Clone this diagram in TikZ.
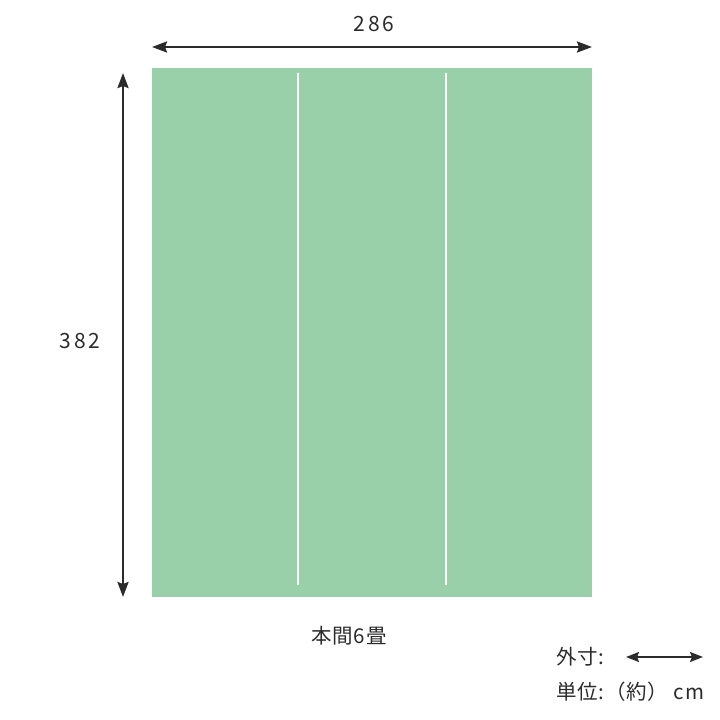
\documentclass[tikz,border=0pt]{standalone}
\usepackage{fontspec}
\setmainfont{Noto Sans CJK JP}
\newfontfamily\digitfont[LetterSpace=14]{Noto Sans CJK JP}
\newfontfamily\keyfont[LetterSpace=4]{Noto Sans CJK JP}
\usetikzlibrary{arrows.meta}
\usetikzlibrary{positioning}
\definecolor{tatami}{HTML}{99D0AA}
\definecolor{ink}{HTML}{2B2B2B}

\tikzset{
	dimline/.style={ink, line width=2.4pt, {Stealth[length=15pt, width=11pt, inset=2pt]}-{Stealth[length=15pt, width=11pt, inset=2pt]}},
	keyline/.style={ink, line width=2pt, {Stealth[length=13pt, width=10pt, inset=2pt]}-{Stealth[length=13pt, width=10pt, inset=2pt]}},
	dimlabel/.style={text=ink, inner sep=0pt, font=\digitfont\fontsize{21}{24}\selectfont},
	jplabel/.style={text=ink, inner sep=0pt, font=\keyfont\fontsize{20.5}{24}\selectfont},
}

\begin{document}
\begin{tikzpicture}[x=1pt, y=-1pt]
	\useasboundingbox (0,0) rectangle (720,720);

	%Mat

	\fill [tatami] (152,68) rectangle (592,597);
	\draw [white, line width=2pt] (298,73) -- (298,585);
	\draw [white, line width=2pt] (446,73) -- (446,585);

	%Width

	\coordinate (WidthL) at (152,47);
	\coordinate (WidthR) at (592,47);
	\draw [dimline] (WidthL) -- (WidthR);
	\node (Width) [dimlabel] at (374,24) {286};

	%Length

	\coordinate (LengthT) at (123,73);
	\coordinate (LengthB) at (123,597);
	\draw [dimline] (LengthT) -- (LengthB);
	\node (Length) [dimlabel] at (80,341) {382};

	%Name

	\node (Name) [jplabel] at (349,636) {本間6畳};

	%Key

	\node (KeyOuter) [jplabel, anchor=west] at (556,657) {外寸:};
	\coordinate (KeyL) at (626,657);
	\coordinate (KeyR) at (703,657);
	\draw [keyline] (KeyL) -- (KeyR);

	\node (KeyUnit) [jplabel, anchor=west] at (556,692) {単位:（約） cm};

\end{tikzpicture}
\end{document}
